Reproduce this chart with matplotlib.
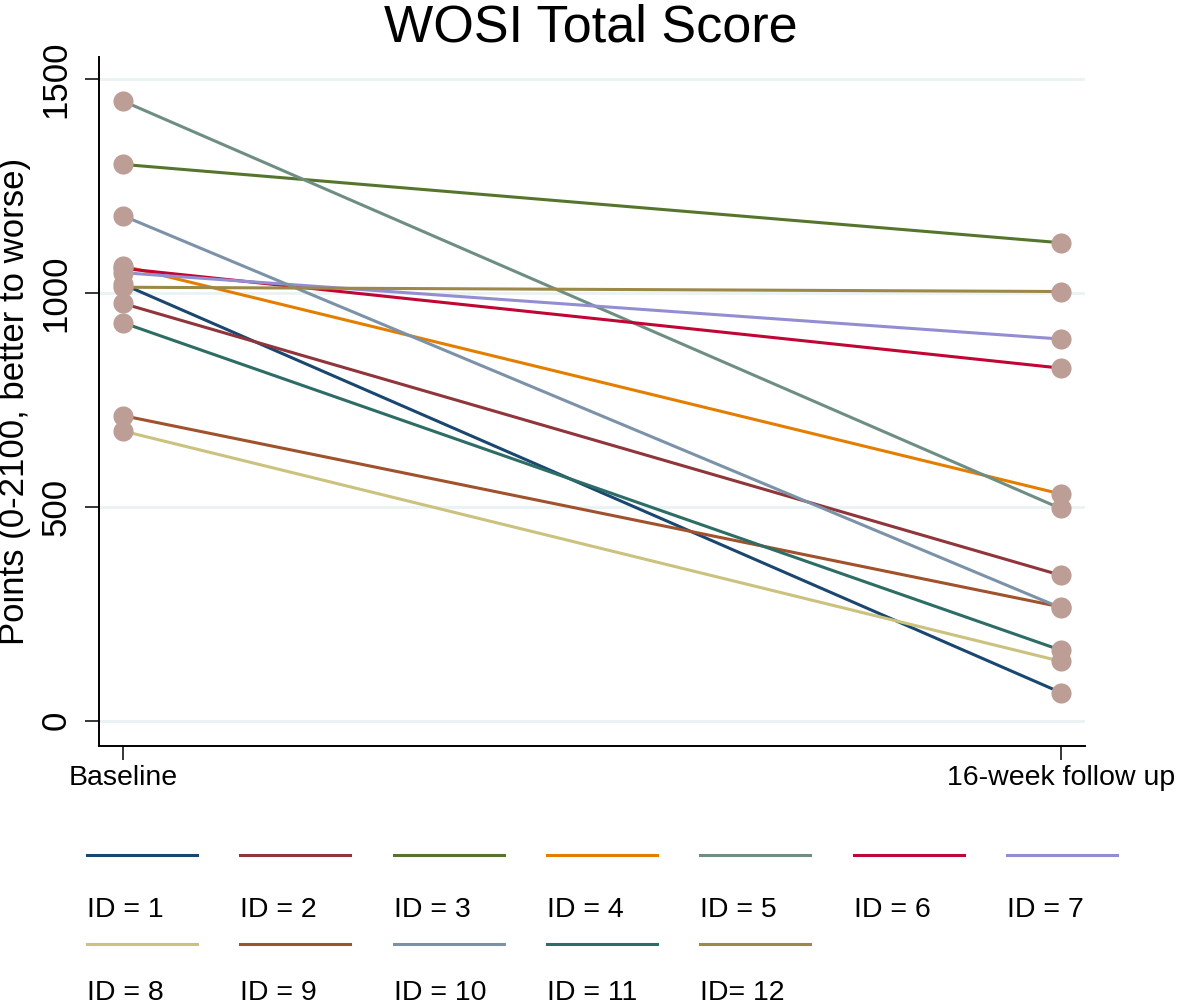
import matplotlib

matplotlib.use('Agg')

import matplotlib.pyplot as plt
from matplotlib.lines import Line2D

plt.rcParams['font.family'] = ['Liberation Sans', 'DejaVu Sans']

# WOSI total score per participant
ids = ['ID = 1', 'ID = 2', 'ID = 3', 'ID = 4', 'ID = 5', 'ID = 6',
       'ID = 7', 'ID = 8', 'ID = 9', 'ID = 10', 'ID = 11', 'ID= 12']
baseline = [1020, 975, 1300, 1063, 1448, 1057, 1047, 677, 713, 1180, 930, 1013]
followup = [66, 340, 1117, 530, 496, 824, 892, 139, 266, 264, 165, 1003]
time_labels = ['Baseline', '16-week follow up']
y_ticks = [0, 500, 1000, 1500]

colors = ['#1a476f', '#90353b', '#55752f', '#e37e00', '#6e8e84', '#c10534',
          '#938dd2', '#cac27e', '#a0522d', '#7b92a8', '#2d6d66', '#9c8847']
marker_color = '#bd9e96'

W, H = 1181, 1006
fig = plt.figure(figsize=(W / 100, H / 100), dpi=100)
ax = fig.add_axes([99 / W, 1 - 746 / H, 986 / W, 689 / H])

x = [1, 2]
for i in range(len(ids)):
    ax.plot(x, [baseline[i], followup[i]], color=colors[i], lw=2.2,
            solid_capstyle='butt', zorder=2)
for i in range(len(ids)):
    ax.plot(x, [baseline[i], followup[i]], ls='none', marker='o',
            ms=14.5, color=marker_color, mec='none', zorder=3)

ax.set_xlim(0.9744, 2.0259)
ax.set_ylim(-59, 1551)
ax.set_yticks(y_ticks)
ax.set_yticklabels([str(t) for t in y_ticks], rotation=90, va='center')
ax.set_xticks(x)
ax.set_xticklabels(time_labels)
ax.tick_params(axis='y', length=10, width=1.1, labelsize=25, pad=9)
ax.tick_params(axis='x', length=10, width=1.1, labelsize=20.5, pad=4)
ax.grid(axis='y', color='#eaf2f3', lw=2)
ax.set_axisbelow(True)
for s in ['top', 'right']:
    ax.spines[s].set_visible(False)
for s in ['left', 'bottom']:
    ax.spines[s].set_linewidth(1.4)

ax.set_ylabel('Points (0-2100, better to worse)', fontsize=25)
ax.yaxis.set_label_coords(-0.069, 0.5)

fig.text(0.5, 1 - 41 / H, 'WOSI Total Score', ha='center', va='baseline', fontsize=37.5)

# legend: key line above label, 7 per row
for i, lab in enumerate(ids):
    col, row = i % 7, i // 7
    x0 = (87 + col * 153.3) / W
    y_line = 1 - (855 + row * 89) / H
    y_text = 1 - (917 + row * 83) / H
    fig.add_artist(Line2D([x0, x0 + 110 / W], [y_line, y_line],
                          color=colors[i], lw=2.2, transform=fig.transFigure))
    fig.text(x0, y_text, lab, ha='left', va='baseline', fontsize=20.5)

fig.savefig('out.png', dpi=100)
